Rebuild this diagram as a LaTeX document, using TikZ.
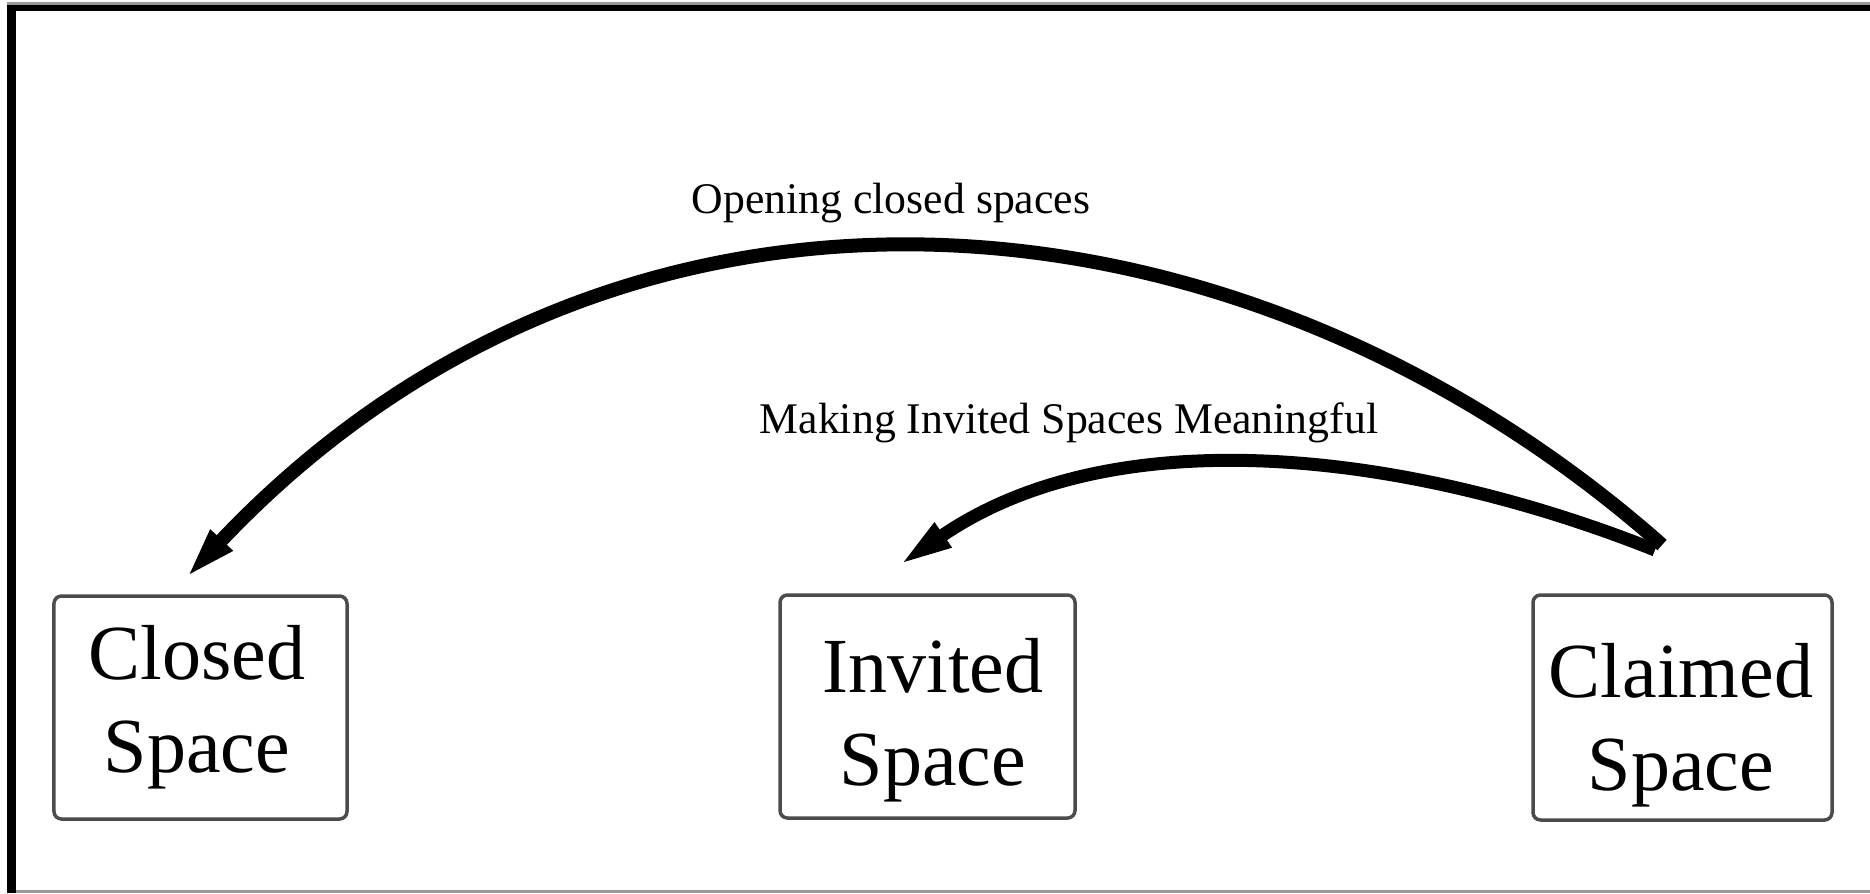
\documentclass[tikz,border=0pt]{standalone}
\usepackage{fontspec}
\setmainfont{Liberation Serif}
\usetikzlibrary{arrows.meta}
\definecolor{boxgray}{gray}{0.3}
\definecolor{framegray}{gray}{0.6}
\begin{document}
\begin{tikzpicture}[x=0.4pt,y=-0.4pt,
  spacebox/.style={draw=boxgray, line width=1.4pt, rounded corners=3pt, inner sep=0pt, minimum height=89.2pt},
  spacetext/.style={font=\fontsize{31.2pt}{37.2pt}\selectfont, align=center, inner sep=0pt},
  flowlabel/.style={font=\fontsize{17.5pt}{21pt}\selectfont, inner sep=0pt, anchor=base},
  flowarrow/.style={line width=#1, -{Triangle[length=22pt,width=10.5pt]}},
]
\useasboundingbox (0,0) rectangle (1870,893);
% frame
\fill[framegray] (7,2) rectangle (1870,5);
\fill[black] (7,5) rectangle (1870,11);
\fill[black] (7,5) rectangle (16,893);
\fill[framegray] (16,890) rectangle (1870,893);
% boxes
\node[spacebox, minimum width=117.2pt] (closed) at (200.5,707.5) {};
\node[spacebox, minimum width=118pt] (invited) at (927.5,706.5) {};
\node[spacebox, minimum width=119.6pt, minimum height=90pt] (claimed) at (1682.5,707.5) {};
\node[spacetext] (closedtext) at (197,707) {Closed\\Space};
\node[spacetext] (invitedtext) at (933,720) {Invited\\Space};
\node[spacetext] (claimedtext) at (1681,725) {Claimed\\Space};
% labels
\node[flowlabel] (openlbl) at (891,213) {Opening closed spaces};
\node[flowlabel] (makelbl) at (1069,433) {Making Invited Spaces Meaningful};
% connector ends
\coordinate (bigtail) at (1662,545);
\coordinate (smalltail) at (1655,550);
\coordinate (closedtip) at (184,580);
\coordinate (invitedtip) at (898,566);
% arrows
\draw[flowarrow=5.6pt] (bigtail) .. controls (1240,172) and (620,118) .. (closedtip);
\draw[flowarrow=5.2pt] (smalltail) .. controls (1409,452) and (1116,416) .. (invitedtip);
\end{tikzpicture}
\end{document}
